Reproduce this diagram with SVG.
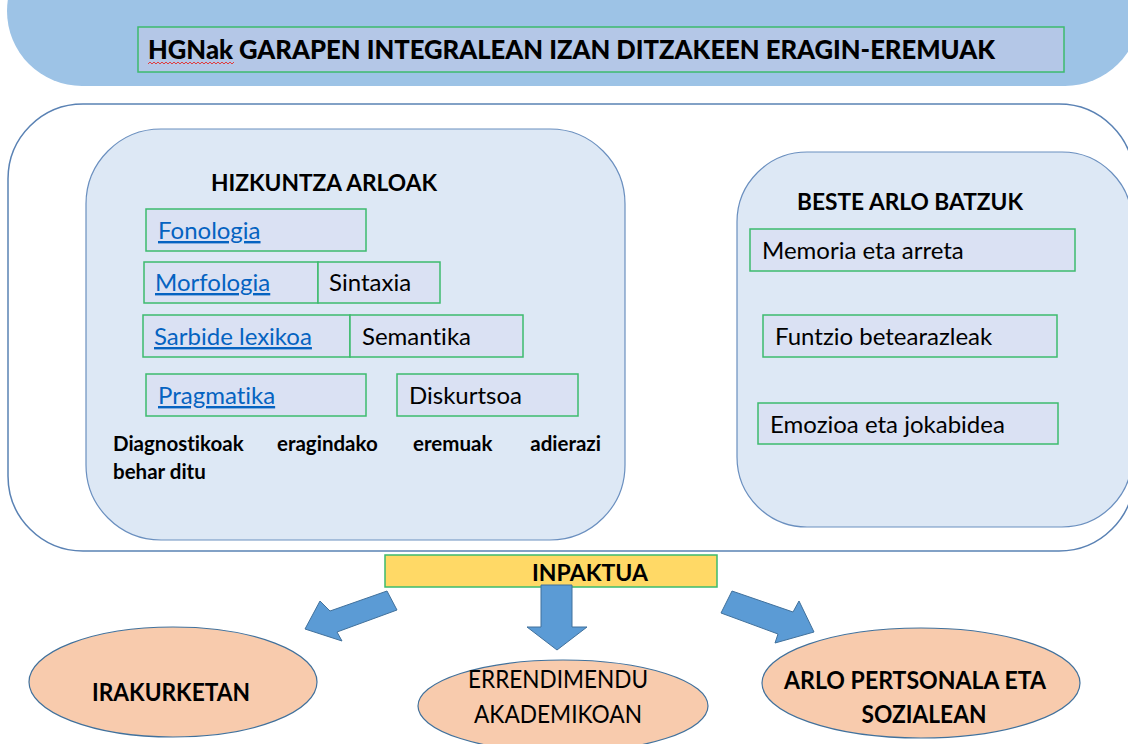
<svg xmlns="http://www.w3.org/2000/svg" width="1128" height="744" viewBox="0 0 1128 744">
<style>
text{font-family:Lato,"Open Sans","Liberation Sans",sans-serif;fill:#000;font-variant-ligatures:none;font-feature-settings:"liga" 0}
.lbl{font-size:24px}
.link{fill:#0563c1;text-decoration:underline}
.b{font-weight:bold}
.box{fill:#dae1f3;stroke:#3dbb6e;stroke-width:1.5}
.arrow{fill:#5b9bd5;stroke:#41719c;stroke-width:1}
.ell{fill:#f8cbad;stroke:#41719c;stroke-width:1.2}
.ell-t{font-size:25px}
.note{font-size:20.5px;font-weight:bold}
</style>
<rect width="1128" height="744" fill="#fff"/>
<g id="banner">
<rect x="7" y="-64" width="1133" height="150" rx="75" ry="75" fill="#9dc3e6"/>
<rect x="138" y="27" width="926" height="45" fill="#b4c7e7" stroke="#3dbb6e" stroke-width="1.5"/>
<text x="148" y="59" font-weight="900" font-size="27" textLength="847" lengthAdjust="spacingAndGlyphs">HGNak GARAPEN INTEGRALEAN IZAN DITZAKEEN ERAGIN-EREMUAK</text>
<path d="M148,64 l2,-2 2,2 2,-2 2,2 2,-2 2,2 2,-2 2,2 2,-2 2,2 2,-2 2,2 2,-2 2,2 2,-2 2,2 2,-2 2,2 2,-2 2,2 2,-2 2,2 2,-2 2,2 2,-2 2,2 2,-2 2,2 2,-2 2,2 2,-2 2,2 2,-2 2,2 2,-2 2,2 2,-2 2,2 2,-2 2,2 2,-2 2,2 2,-2" fill="none" stroke="#e03c3c" stroke-width="1"/>
</g>
<g id="outer">
<rect x="8" y="104" width="1126" height="447" rx="75" ry="75" fill="#fff" stroke="#5a82b4" stroke-width="1.5"/>
</g>
<g id="hizkuntza">
<rect x="86" y="129" width="539" height="411" rx="75" ry="75" fill="#dde8f5" stroke="#6a8fbf" stroke-width="1.2"/>
<text x="211" y="191" class="b" font-size="23" textLength="226" lengthAdjust="spacingAndGlyphs">HIZKUNTZA ARLOAK</text>
</g>
<g id="fonologia"><rect class="box" x="146" y="209" width="220" height="42"/><text class="lbl link" x="158" y="239">Fonologia</text></g>
<g id="morfologia"><rect class="box" x="144" y="262" width="174" height="41"/><text class="lbl link" x="155" y="291">Morfologia</text></g>
<g id="sintaxia"><rect class="box" x="318" y="262" width="122" height="41"/><text class="lbl" x="329" y="291">Sintaxia</text></g>
<g id="sarbide"><rect class="box" x="143" y="315" width="207" height="42"/><text class="lbl link" x="154" y="345">Sarbide lexikoa</text></g>
<g id="semantika"><rect class="box" x="350" y="315" width="173" height="42"/><text class="lbl" x="362" y="345">Semantika</text></g>
<g id="pragmatika"><rect class="box" x="146" y="374" width="220" height="42"/><text class="lbl link" x="158" y="404">Pragmatika</text></g>
<g id="diskurtsoa"><rect class="box" x="397" y="374" width="181" height="42"/><text class="lbl" x="409" y="404">Diskurtsoa</text></g>
<g id="diagnostiko-note">
<text class="note" x="113" y="451">Diagnostikoak</text>
<text class="note" x="277" y="451">eragindako</text>
<text class="note" x="413" y="451">eremuak</text>
<text class="note" x="601" y="451" text-anchor="end">adierazi</text>
<text class="note" x="113" y="479">behar ditu</text>
</g>
<g id="beste">
<rect x="737" y="152" width="395" height="375" rx="70" ry="70" fill="#dde8f5" stroke="#6a8fbf" stroke-width="1.2"/>
<text x="797" y="210" class="b" font-size="23" textLength="226" lengthAdjust="spacingAndGlyphs">BESTE ARLO BATZUK</text>
</g>
<g id="memoria"><rect class="box" x="750" y="229" width="325" height="42"/><text class="lbl" x="762" y="259">Memoria eta arreta</text></g>
<g id="funtzio"><rect class="box" x="763" y="315" width="294" height="42"/><text class="lbl" x="775" y="345">Funtzio betearazleak</text></g>
<g id="emozioa"><rect class="box" x="758" y="403" width="300" height="41"/><text class="lbl" x="770" y="433">Emozioa eta jokabidea</text></g>
<g id="inpaktua">
<rect x="385" y="555" width="332" height="32" fill="#ffd966" stroke="#3dbb6e" stroke-width="1.5"/>
<text x="590" y="581" class="b" font-size="22" text-anchor="middle" textLength="116" lengthAdjust="spacingAndGlyphs">INPAKTUA</text>
</g>
<g id="connectors">
<polygon class="arrow" points="387,591 397,610 337,632 342,641 305,629 320,601 330,611"/>
<polygon class="arrow" points="541,585 572,585 572,627 587,627 557,650 527,627 541,627"/>
<polygon class="arrow" points="732,591 721,613 778,634 775,643 814,632 799,601 793,612"/>
</g>
<g id="irakurketan">
<ellipse class="ell" cx="173" cy="682" rx="144" ry="55"/>
<text class="b ell-t" x="171" y="701" text-anchor="middle" textLength="158" lengthAdjust="spacingAndGlyphs">IRAKURKETAN</text>
</g>
<g id="errendimendu">
<ellipse class="ell" cx="563" cy="706" rx="145" ry="46"/>
<text class="ell-t" x="558" y="688" text-anchor="middle" textLength="180" lengthAdjust="spacingAndGlyphs">ERRENDIMENDU</text>
<text class="ell-t" x="558" y="723" text-anchor="middle" textLength="168" lengthAdjust="spacingAndGlyphs">AKADEMIKOAN</text>
</g>
<g id="arlo-pertsonala">
<ellipse class="ell" cx="921" cy="683" rx="159" ry="55"/>
<text class="b ell-t" x="915" y="689" text-anchor="middle" textLength="262" lengthAdjust="spacingAndGlyphs">ARLO PERTSONALA ETA</text>
<text class="b ell-t" x="924" y="723" text-anchor="middle" textLength="125" lengthAdjust="spacingAndGlyphs">SOZIALEAN</text>
</g>
</svg>
